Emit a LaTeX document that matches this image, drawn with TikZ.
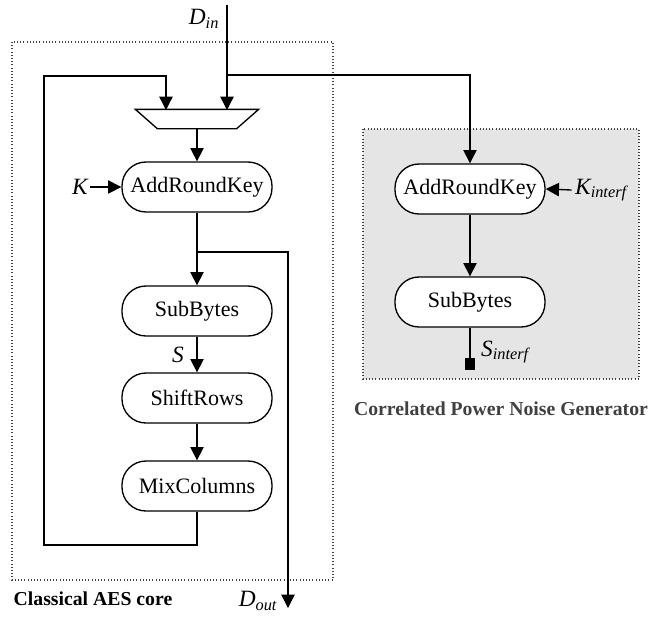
\documentclass[tikz,border=0pt]{standalone}
\usepackage{fontspec}
\setmainfont{Liberation Serif}
\usetikzlibrary{arrows.meta,calc}
\begin{document}
\begin{tikzpicture}[x=0.75pt,y=-0.75pt,
  line width=1pt,
  arr/.style={-{Triangle[length=10pt,width=10pt]}},
  stepbox/.style={draw, fill=white, rounded corners=18pt, minimum width=112.5pt, minimum height=37.5pt, inner sep=0pt, font=\fontsize{16.5}{19}\selectfont},
  lbl/.style={inner sep=0pt, font=\fontsize{17.5}{20}\selectfont\itshape},
  dotframe/.style={draw=black!75, line width=0.8pt, dash pattern=on 0.8pt off 1.6pt},
  captxt/.style={inner sep=0pt, font=\fontsize{14.8}{17}\selectfont\bfseries}]
\useasboundingbox (0,0) rectangle (662,619);
% frames
\draw[dotframe] (12,42) rectangle (333,580);
\draw[dotframe, fill=black!10] (363,129) rectangle (639,379);
\node[captxt, anchor=base west] (capL) at (13,605) {Classical AES core};
\node[captxt, anchor=base, text=black!75] (capR) at (501,415) {Correlated Power Noise Generator};
% multiplexer
\node[minimum width=91.5pt, minimum height=13.5pt, inner sep=0pt] (mux) at (197,119) {};
\draw ($(mux.north west)$) -- ($(mux.north east)$) -- ($(mux.south east)+(-22,0)$) -- ($(mux.south west)+(22,0)$) -- cycle;
% left column
\node[stepbox] (ark) at (197,187) {AddRoundKey};
\node[stepbox] (sb) at (197,311) {SubBytes};
\node[stepbox] (sr) at (197,398) {ShiftRows};
\node[stepbox] (mix) at (197,486) {MixColumns};
% right column
\node[stepbox] (rark) at (470,189) {AddRoundKey};
\node[stepbox] (rsb) at (470,302) {SubBytes};
\node[fill=black, inner sep=0pt, minimum width=7.5pt, minimum height=8.5pt] (sq) at (470,364) {};
% labels
\node[lbl] (din) at (204,19) {D\textsubscript{in}};
\node[lbl] (K) at (80,187) {K};
\node[lbl] (S) at (178,355) {S};
\node[lbl] (dout) at (258,601) {D\textsubscript{out}};
\node[lbl] (kint) at (601,190) {K\textsubscript{interf}};
\node[lbl] (sint) at (505,352) {S\textsubscript{interf}};
% coordinates
\coordinate (dtop) at (227,5);
\coordinate (br1) at (227,75);
\coordinate (dinin) at (227,110);
\coordinate (fbin) at (166,110);
\coordinate (lp1) at (44,545);
\coordinate (lp2) at (44,76);
\coordinate (brd) at (197,252);
\coordinate (dend) at (288,608);
% connectors
\draw[arr] (dtop) -- (dinin);
\draw[arr] (br1) -| (rark.north);
\draw[arr] (mix.south) |- (lp1) -- (lp2) -| (fbin);
\draw[arr] (mux.south) -- (ark.north);
\draw[arr] (K.east) ++(2,0) -- (ark.west);
\draw[arr] (ark.south) -- (sb.north);
\draw[arr] (brd) -| (dend);
\draw[arr] (sb.south) -- (sr.north);
\draw[arr] (sr.south) -- (mix.north);
\draw[arr] (rark.south) -- (rsb.north);
\draw[arr] (kint.west) ++(-3,0) -- (rark.east);
\draw (rsb.south) -- (sq.north);
\end{tikzpicture}
\end{document}
